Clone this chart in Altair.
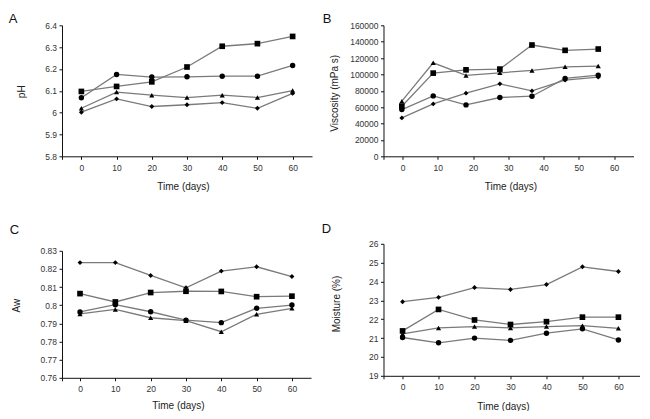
import altair as alt
import pandas as pd

# ---------------- data ----------------
days = [0, 10, 20, 30, 40, 50, 60]
visc_days = [-0.2, 8.7, 18.0, 27.6, 36.7, 46.1, 55.5]
series = ["Square", "Circle", "Triangle", "Diamond"]

ph_square = [6.097, 6.120, 6.141, 6.209, 6.304, 6.316, 6.349]
ph_circle = [6.068, 6.175, 6.163, 6.164, 6.167, 6.167, 6.216]
ph_triangle = [6.020, 6.094, 6.080, 6.069, 6.080, 6.069, 6.101]
ph_diamond = [6.002, 6.063, 6.028, 6.036, 6.046, 6.020, 6.088]

visc_square = [61200, 101600, 105600, 106500, 135900, 129400, 131000]
visc_circle = [57100, 73800, 62800, 71800, 73400, 95100, 99100]
visc_triangle = [67300, 114200, 98800, 102000, 104900, 109300, 110200]
visc_diamond = [46900, 64000, 77100, 88500, 79900, 93000, 96700]

aw_square = [0.8064, 0.8018, 0.8070, 0.8077, 0.8076, 0.8047, 0.8050]
aw_circle = [0.7963, 0.8003, 0.7964, 0.7918, 0.7904, 0.7983, 0.8001]
aw_triangle = [0.7952, 0.7977, 0.7931, 0.7915, 0.7854, 0.7950, 0.7983]
aw_diamond = [0.8235, 0.8235, 0.8164, 0.8096, 0.8188, 0.8212, 0.8158]

moist_square = [21.38, 22.52, 21.96, 21.72, 21.87, 22.11, 22.11]
moist_circle = [21.03, 20.75, 21.00, 20.88, 21.26, 21.49, 20.90]
moist_triangle = [21.22, 21.54, 21.61, 21.54, 21.61, 21.66, 21.52]
moist_diamond = [22.93, 23.16, 23.68, 23.58, 23.84, 24.78, 24.53]

x_ticks = [0, 10, 20, 30, 40, 50, 60]
ph_ticks = [5.8, 5.9, 6.0, 6.1, 6.2, 6.3, 6.4]
visc_ticks = [0, 20000, 40000, 60000, 80000, 100000, 120000, 140000, 160000]
aw_ticks = [0.76, 0.77, 0.78, 0.79, 0.80, 0.81, 0.82, 0.83]
moist_ticks = [19, 20, 21, 22, 23, 24, 25, 26]

FONT = "Liberation Sans, Arial, sans-serif"
shapes = ["square", "circle", "triangle-up", "diamond"]
sizes = [32, 24, 24, 16]


def panel(xs, ys, letter, ytitle, yticks, yfmt, xdomain, width, height,
          letter_x, letter_y, ytx, yty, xtx, xty):
    rows = []
    for s, vals in zip(series, ys):
        for d, v in zip(xs, vals):
            rows.append({"day": d, "value": v, "series": s})
    df = pd.DataFrame(rows)

    xaxis = alt.Axis(
        values=[xdomain[0]] + x_ticks,
        labelExpr="datum.value < 0 ? '' : datum.label",
        title="Time (days)", titleX=xtx, titleY=xty,
        titleBaseline="middle", titleAlign="center",
        labelPadding=4,
    )
    yaxis = alt.Axis(
        values=yticks, format=yfmt, title=ytitle,
        titleX=ytx, titleY=yty, titleBaseline="middle", titleAlign="center",
        labelPadding=2.5,
    )
    x = alt.X("day:Q", scale=alt.Scale(domain=xdomain, nice=False, zero=False), axis=xaxis)
    y = alt.Y("value:Q", scale=alt.Scale(domain=[yticks[0], yticks[-1]], nice=False, zero=False), axis=yaxis)

    lines = alt.Chart(df).mark_line(color="#7a7a7a", strokeWidth=1.3).encode(
        x=x, y=y, detail="series:N"
    )
    pts = alt.Chart(df).mark_point(filled=True, color="black", opacity=1).encode(
        x=x, y=y,
        shape=alt.Shape("series:N", scale=alt.Scale(domain=series, range=shapes), legend=None),
        size=alt.Size("series:N", scale=alt.Scale(domain=series, range=sizes), legend=None),
    )
    lab = alt.Chart(pd.DataFrame({"t": [letter]})).mark_text(
        align="left", baseline="top", fontSize=13, font=FONT, color="#111111"
    ).encode(text="t:N", x=alt.value(letter_x), y=alt.value(letter_y))
    return alt.layer(lines, pts, lab).properties(width=width, height=height)


A = panel(days, [ph_square, ph_circle, ph_triangle, ph_diamond], "A", "pH",
          ph_ticks, ".1~f", [-5.5, 65.5], 250, 131, -53.2, -12.7, -40.7, 66, 121, 30)
C = panel(days, [aw_square, aw_circle, aw_triangle, aw_diamond], "C", "Aw",
          aw_ticks, ".2~f", [-5.1, 65.4], 249, 127, -52.2, -26.6, -46, 54.4, 116, 27.7)
B = panel(visc_days, [visc_square, visc_circle, visc_triangle, visc_diamond], "B",
          "Viscosity (mPa s)", visc_ticks, "d", [-5.4, 65.5], 250, 131, -60.8, -12.0,
          -49, 67.5, 127, 30.7)
D = panel(days, [moist_square, moist_circle, moist_triangle, moist_diamond], "D",
          "Moisture (%)", moist_ticks, "d", [-5.3, 66], 256.5, 132, -61.8, -20.3,
          -46.8, 59.7, 119.4, 30.4)

chart = alt.hconcat(
    alt.vconcat(A, C, spacing=32.5),
    alt.vconcat(B, D, spacing=30.5),
    spacing=9.5,
).properties(
    padding={"left": 0, "top": 4.3, "right": 0, "bottom": 0}
).configure_view(stroke=None).configure_axis(
    grid=False,
    domainColor="#111111", domainWidth=1,
    tickColor="#111111", tickSize=3, tickWidth=1,
    labelFont=FONT, labelFontSize=8.5, labelColor="#333333",
    titleFont=FONT, titleFontSize=10, titleFontWeight="normal", titleColor="#222222",
)

chart.save("out.html", embed_options={"renderer": "svg", "actions": False})
